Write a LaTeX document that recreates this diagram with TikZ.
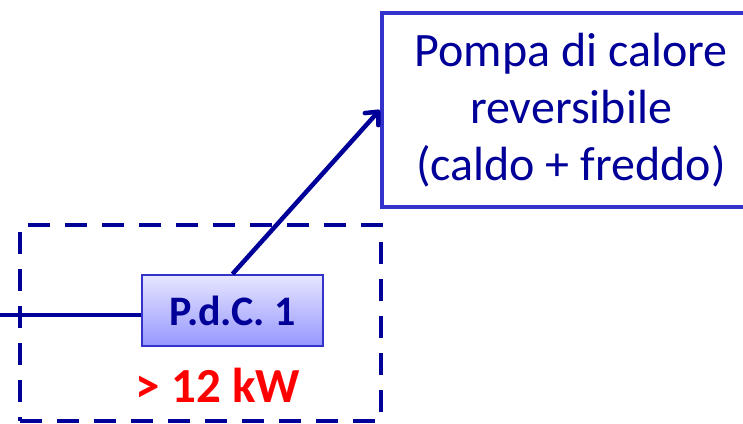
\documentclass[tikz,border=0pt]{standalone}
\usepackage{fontspec}
\setmainfont{Carlito}
\usetikzlibrary{arrows.meta}

\definecolor{navy}{RGB}{0,0,153}
\definecolor{bordo}{RGB}{51,51,204}
\definecolor{lilla}{RGB}{230,230,255}
\definecolor{lavanda}{RGB}{150,150,255}

\tikzset{
  pompabox/.style={draw=bordo,line width=4.5pt,inner sep=0pt,
    minimum width=378,minimum height=194,align=center,text=navy,
    font=\fontsize{48}{57}\selectfont},
  pdcbox/.style={draw=bordo,line width=2pt,top color=lilla,bottom color=lavanda,
    inner sep=0pt,minimum width=181,minimum height=71,text=navy,
    font=\fontsize{42}{48}\selectfont\bfseries},
  gruppo/.style={draw=navy,line width=4.5pt,dash pattern=on 22pt off 15pt,
    inner sep=0pt,minimum width=361,minimum height=196},
  potenza/.style={text=red,font=\fontsize{49}{57}\selectfont\bfseries},
  linea/.style={draw=navy,line width=4.5pt},
}

\begin{document}
\begin{tikzpicture}[x=1pt,y=-1pt]

\clip (0,0) rectangle (743,423);

% ---- Gruppo tratteggiato ----
\node[gruppo] (grp) at (200.5,323) {};

% ---- Pompa di calore ----
\node[pdcbox] (pdc) at (232.5,310.5) {P.d.C. 1};
\node[potenza] (kw) at (218,385) {> 12 kW};

\node[pompabox] (pompa) at (571,110) {Pompa di calore\\reversibile\\(caldo + freddo)};

% ---- Collegamenti ----
\coordinate (rete) at (0,315);
\draw[linea] (rete) -- (rete -| pdc.west);
\draw[linea,-{Straight Barb[length=10pt,width=18pt,round]}] (pdc.north) -- (pompa.west);

\end{tikzpicture}
\end{document}
